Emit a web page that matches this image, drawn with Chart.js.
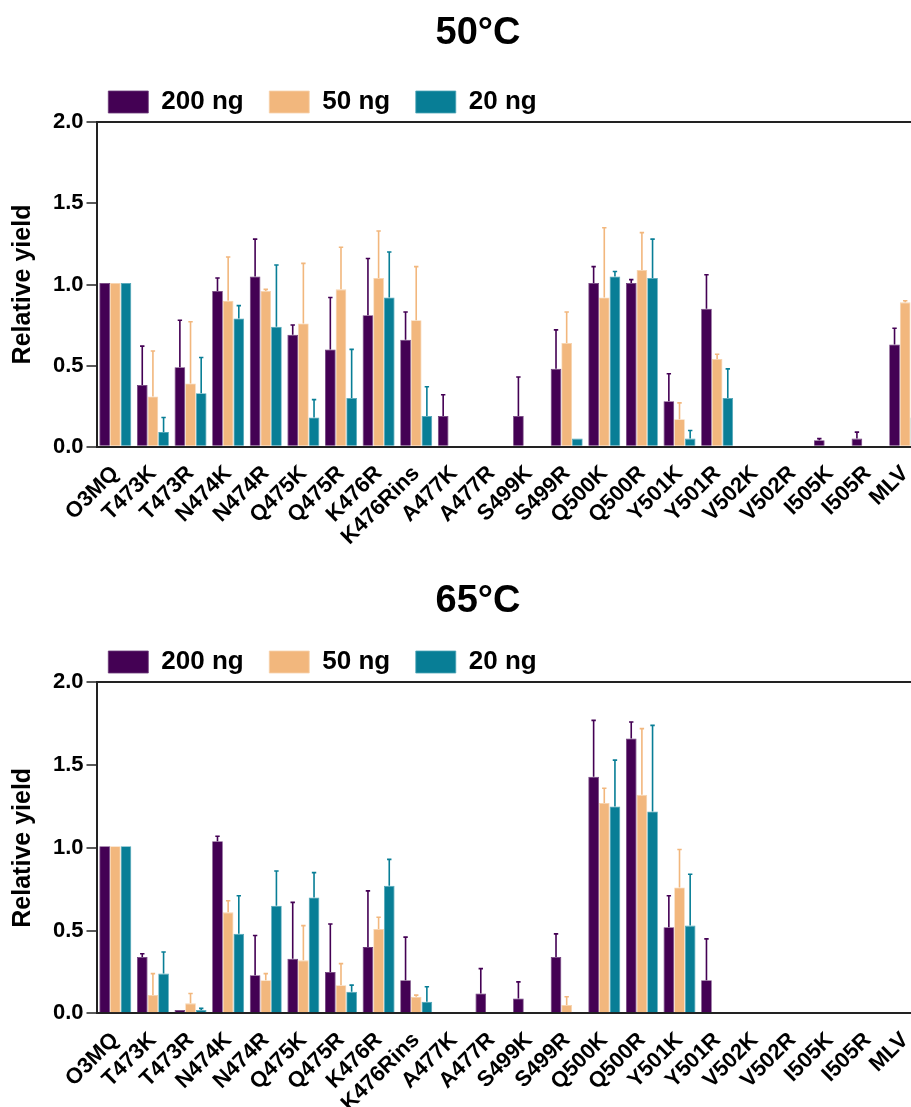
<!DOCTYPE html>
<html>
<head>
<meta charset="utf-8">
<script src="https://cdn.jsdelivr.net/npm/chart.js@4/dist/chart.umd.min.js"></script>
<style>
  html, body { margin: 0; padding: 0; background: #fff; overflow: hidden; width: 911px; height: 1107px; }
  canvas { position: absolute; left: 0; }
  #chart50 { top: 0; }
  #chart65 { top: 560px; }
</style>
</head>
<body>
<canvas id="chart50" width="960" height="560"></canvas>
<canvas id="chart65" width="960" height="547"></canvas>
<script>
// Mutants on the x axis (same for both panels)
const categories = ['O3MQ', 'T473K', 'T473R', 'N474K', 'N474R', 'Q475K', 'Q475R', 'K476R', 'K476Rins',
    'A477K', 'A477R', 'S499K', 'S499R', 'Q500K', 'Q500R', 'Y501K', 'Y501R', 'V502K', 'V502R',
    'I505K', 'I505R', 'MLV'];
const seriesLabels = ['200 ng', '50 ng', '20 ng'];
const yTicks = [0, 0.5, 1.0, 1.5, 2.0];

// 50°C - mean relative yield and upper error (SD)
const yield200_50 = [1.01, 0.38, 0.49, 0.96, 1.05, 0.69, 0.60, 0.81, 0.66, 0.19, null, 0.19, 0.48, 1.01, 1.01, 0.28, 0.85, null, null, 0.04, 0.05, 0.63];
const err200_50   = [0, 0.24, 0.29, 0.08, 0.23, 0.06, 0.32, 0.35, 0.17, 0.13, null, 0.24, 0.24, 0.10, 0.02, 0.17, 0.21, null, null, 0.01, 0.04, 0.10];
const yield50_50  = [1.01, 0.31, 0.39, 0.90, 0.96, 0.76, 0.97, 1.04, 0.78, null, null, null, 0.64, 0.92, 1.09, 0.17, 0.54, null, null, null, null, 0.89];
const err50_50    = [0, 0.28, 0.38, 0.27, 0.01, 0.37, 0.26, 0.29, 0.33, null, null, null, 0.19, 0.43, 0.23, 0.10, 0.03, null, null, null, null, 0.01];
const yield20_50  = [1.01, 0.09, 0.33, 0.79, 0.74, 0.18, 0.30, 0.92, 0.19, null, null, null, 0.05, 1.05, 1.04, 0.05, 0.30, null, null, null, null, 0.18];
const err20_50    = [0, 0.09, 0.22, 0.08, 0.38, 0.11, 0.30, 0.28, 0.18, null, null, null, 0, 0.03, 0.24, 0.05, 0.18, null, null, null, null, 0];

// 65°C
const yield200_65 = [1.01, 0.34, 0.02, 1.04, 0.23, 0.33, 0.25, 0.40, 0.20, null, 0.12, 0.09, 0.34, 1.43, 1.66, 0.52, 0.20, null, null, null, null, null];
const err200_65   = [0, 0.02, 0, 0.03, 0.24, 0.34, 0.29, 0.34, 0.26, null, 0.15, 0.10, 0.14, 0.34, 0.10, 0.19, 0.25, null, null, null, null, null];
const yield50_65  = [1.01, 0.11, 0.06, 0.61, 0.20, 0.32, 0.17, 0.51, 0.10, null, null, null, 0.05, 1.27, 1.32, 0.76, null, null, null, null, null, null];
const err50_65    = [0, 0.13, 0.06, 0.07, 0.04, 0.21, 0.13, 0.07, 0.01, null, null, null, 0.05, 0.09, 0.40, 0.23, null, null, null, null, null, null];
const yield20_65  = [1.01, 0.24, 0.02, 0.48, 0.65, 0.70, 0.13, 0.77, 0.07, null, null, null, null, 1.25, 1.22, 0.53, null, null, null, null, null, null];
const err20_65    = [0, 0.13, 0.01, 0.23, 0.21, 0.15, 0.04, 0.16, 0.09, null, null, null, null, 0.28, 0.52, 0.31, null, null, null, null, null, null];

const colors = ['#440154', '#F2B77D', '#087E96'];
const borderTints = ['#6b3a78', '#f7d3ae', '#4fa6b8'];

Chart.defaults.font.family = "'Liberation Sans', Arial, Helvetica, sans-serif";
Chart.defaults.color = '#000';

// upper-only error bars drawn on top of each bar
const errorBars = {
    id: 'errorBars',
    afterDatasetsDraw(chart) {
        const ctx = chart.ctx;
        const y = chart.scales.y;
        chart.data.datasets.forEach((ds, i) => {
            const meta = chart.getDatasetMeta(i);
            meta.data.forEach((bar, j) => {
                const v = ds.data[j];
                const e = ds.errors[j];
                if (v == null || !e) return;
                const top = y.getPixelForValue(v + e);
                ctx.save();
                ctx.strokeStyle = ds.backgroundColor;
                ctx.lineWidth = 1.6;
                ctx.beginPath();
                ctx.moveTo(bar.x, bar.y);
                ctx.lineTo(bar.x, top);
                ctx.moveTo(bar.x - 2.2, top);
                ctx.lineTo(bar.x + 2.2, top);
                ctx.stroke();
                ctx.restore();
            });
        });
    }
};

// put title and legend where the figure has them
const placeHeader = {
    id: 'placeHeader',
    afterLayout(chart) {
        const opts = chart.options.plugins.placeHeader;
        const t = chart.titleBlock;
        const w = t.right - t.left;
        t.left = opts.titleX - w / 2;
        t.right = opts.titleX + w / 2;
        chart.legend.left = opts.legendX - chart.legend.options.labels.padding;
    }
};

function makeChart(id, title, titlePad, plotBottom, values, errors) {
    const canvas = document.getElementById(id);
    const H = canvas.height;
    return new Chart(canvas.getContext('2d'), {
        type: 'bar',
        data: {
            labels: categories,
            datasets: seriesLabels.map((label, i) => ({
                label: label,
                data: values[i],
                errors: errors[i],
                backgroundColor: colors[i],
                borderColor: borderTints[i],
                borderWidth: 0.8,
                categoryPercentage: 0.85,
                barPercentage: 1.0
            }))
        },
        options: {
            responsive: false,
            animation: false,
            layout: { padding: { left: 0, right: canvas.width - 924, top: 0, bottom: 0 } },
            plugins: {
                title: {
                    display: true,
                    text: title,
                    font: { size: 38, weight: 'bold', lineHeight: 1.0 },
                    color: '#000',
                    padding: titlePad
                },
                legend: {
                    display: true,
                    position: 'top',
                    align: 'start',
                    maxHeight: 58.9,
                    labels: {
                        boxWidth: 40,
                        boxHeight: 22,
                        padding: 25.6,
                        color: '#000',
                        font: { size: 26, weight: 'bold' }
                    }
                },
                tooltip: { enabled: false },
                placeHeader: { titleX: 478, legendX: 108.3 }
            },
            scales: {
                x: {
                    grid: { display: false },
                    border: { display: true, color: '#222', width: 2 },
                    ticks: {
                        autoSkip: false,
                        maxRotation: 45,
                        minRotation: 45,
                        padding: 6,
                        color: '#000',
                        font: { size: 22, weight: 'bold' }
                    },
                    afterFit(s) { s.height = H - plotBottom; }
                },
                y: {
                    min: 0,
                    max: 2,
                    afterBuildTicks(s) { s.ticks = yTicks.map(v => ({ value: v })); },
                    grid: {
                        drawOnChartArea: true,
                        color: c => (c.tick && c.tick.value === 2 ? '#222' : 'rgba(0,0,0,0)'),
                        lineWidth: 2,
                        tickColor: '#222',
                        tickWidth: 1.5,
                        tickLength: 10
                    },
                    border: { display: true, color: '#222', width: 2 },
                    ticks: {
                        padding: 3,
                        color: '#000',
                        font: { size: 22, weight: 'bold' },
                        callback: v => v.toFixed(1)
                    },
                    title: {
                        display: true,
                        text: 'Relative yield',
                        color: '#000',
                        font: { size: 25, weight: 'bold' },
                        padding: { top: 8.5, bottom: 0 }
                    },
                    afterFit(s) { s.width = 96.5; }
                }
            }
        },
        plugins: [errorBars, placeHeader]
    });
}

makeChart('chart50', '50°C', { top: 14.5, bottom: 10.9 }, 446.7,
    [yield200_50, yield50_50, yield20_50], [err200_50, err50_50, err20_50]);
makeChart('chart65', '65°C', { top: 23, bottom: 2.4 }, 453.3,
    [yield200_65, yield50_65, yield20_65], [err200_65, err50_65, err20_65]);
</script>
</body>
</html>
